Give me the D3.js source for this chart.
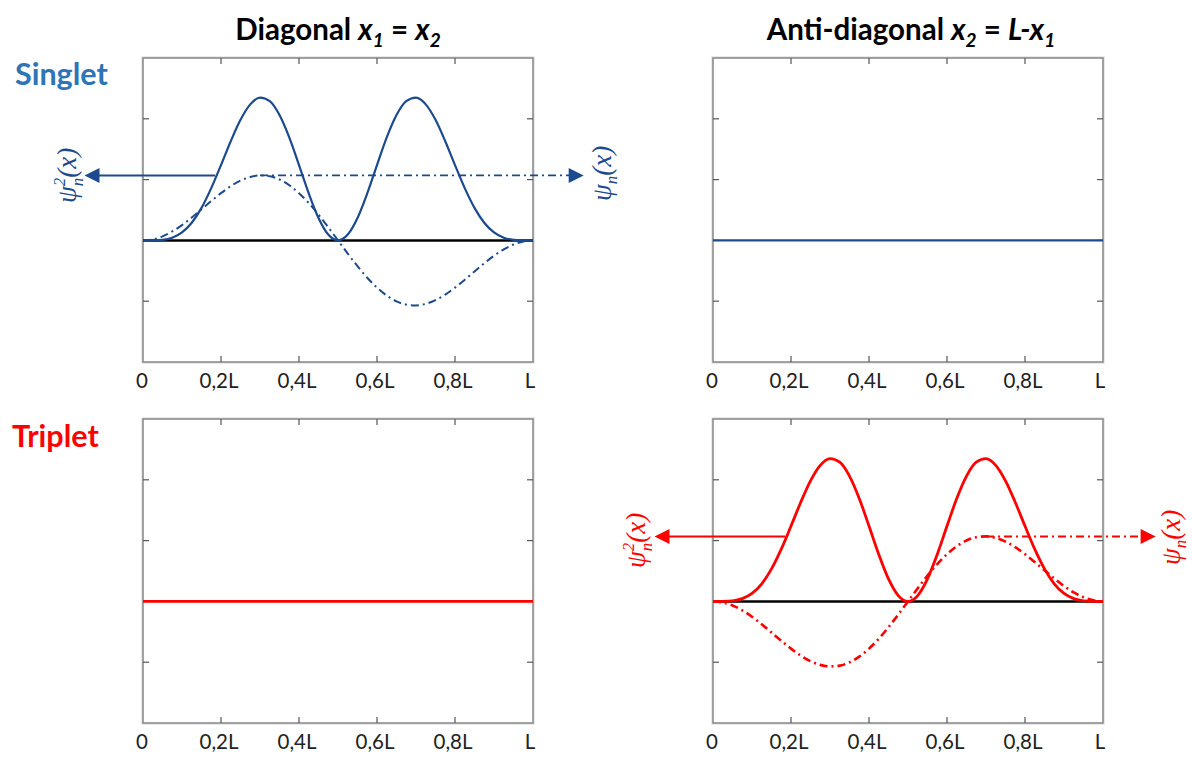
<!DOCTYPE html>
<html>
<head>
<meta charset="utf-8">
<script src="https://cdn.jsdelivr.net/npm/d3@7"></script>
<style>
  html, body { margin: 0; padding: 0; background: #fff; }
  svg { display: block; }
</style>
</head>
<body>
<svg id="fig" width="1192" height="758"></svg>
<script>
// Position along the box, in units of L
const xPos = [0, 0.025, 0.05, 0.075, 0.1, 0.125, 0.15, 0.175, 0.2, 0.225, 0.25,
  0.275, 0.3, 0.325, 0.35, 0.375, 0.4, 0.425, 0.45, 0.475, 0.5,
  0.525, 0.55, 0.575, 0.6, 0.625, 0.65, 0.675, 0.7, 0.725, 0.75,
  0.775, 0.8, 0.825, 0.85, 0.875, 0.9, 0.925, 0.95, 0.975, 1];

// Singlet on the diagonal: amplitude psi_n(x)
const singletDiagPsi = [0, 0.017, 0.067, 0.147, 0.252, 0.376, 0.511, 0.647, 0.777, 0.892, 0.983,
  1.044, 1.069, 1.056, 1.002, 0.908, 0.777, 0.614, 0.424, 0.217, 0,
  -0.217, -0.424, -0.614, -0.777, -0.908, -1.002, -1.056, -1.069, -1.044, -0.983,
  -0.892, -0.777, -0.647, -0.511, -0.376, -0.252, -0.147, -0.067, -0.017, 0];

// Singlet on the diagonal: probability density psi_n^2(x)
const singletDiagPsi2 = [0, 0.001, 0.009, 0.045, 0.131, 0.290, 0.535, 0.860, 1.239, 1.631, 1.983,
  2.237, 2.348, 2.289, 2.061, 1.693, 1.239, 0.773, 0.369, 0.096, 0,
  0.096, 0.369, 0.773, 1.239, 1.693, 2.061, 2.289, 2.348, 2.237, 1.983,
  1.631, 1.239, 0.860, 0.535, 0.290, 0.131, 0.045, 0.009, 0.001, 0];

// Triplet on the anti-diagonal: amplitude psi_n(x)
const tripletAntiPsi = [0, -0.017, -0.067, -0.147, -0.252, -0.376, -0.511, -0.647, -0.777, -0.892, -0.983,
  -1.044, -1.069, -1.056, -1.002, -0.908, -0.777, -0.614, -0.424, -0.217, 0,
  0.217, 0.424, 0.614, 0.777, 0.908, 1.002, 1.056, 1.069, 1.044, 0.983,
  0.892, 0.777, 0.647, 0.511, 0.376, 0.252, 0.147, 0.067, 0.017, 0];

// Triplet on the anti-diagonal: probability density psi_n^2(x)
const tripletAntiPsi2 = [0, 0.001, 0.009, 0.045, 0.131, 0.290, 0.535, 0.860, 1.239, 1.631, 1.983,
  2.237, 2.348, 2.289, 2.061, 1.693, 1.239, 0.773, 0.369, 0.096, 0,
  0.096, 0.369, 0.773, 1.239, 1.693, 2.061, 2.289, 2.348, 2.237, 1.983,
  1.631, 1.239, 0.860, 0.535, 0.290, 0.131, 0.045, 0.009, 0.001, 0];

// Vanishing wavefunctions (singlet anti-diagonal, triplet diagonal)
const flatPsi = [0, 0];
const flatX = [0, 1];

// Axis tick values and labels
const xTickVals = [0, 0.2, 0.4, 0.6, 0.8, 1];
const xTickLabels = ["0", "0,2L", "0,4L", "0,6L", "0,8L", "L"];
const yTickVals = [-1, 0, 1, 2];

const colTitles = ["Diagonal", "Anti-diagonal"];
const rowTitles = ["Singlet", "Triplet"];

const BLUE = "#1c4a8e";
const BLUE_LABEL = "#2e75b6";
const RED = "#ff0000";

const svg = d3.select("#fig");

const panelW = 390, panelH = 304;
const colX = [143, 713];
const rowY = [58, 419];

function makePanel(col, row) {
  const g = svg.append("g").attr("transform", `translate(${colX[col]},${rowY[row]})`);
  const x = d3.scaleLinear().domain([0, 1]).range([0, panelW]);
  const y = d3.scaleLinear().domain([-2, 3]).range([panelH, 0]);

  // frame
  g.append("rect").attr("x", -1).attr("y", -1).attr("width", panelW + 2).attr("height", panelH + 2)
    .attr("fill", "none").attr("stroke", "#d4d4d4").attr("stroke-width", 1);
  g.append("rect").attr("x", 0).attr("y", 0).attr("width", panelW).attr("height", panelH)
    .attr("fill", "none").attr("stroke", "#8c8c8c").attr("stroke-width", 1.6);

  // inward ticks on all four sides
  const inner = xTickVals.slice(1, -1);
  const tickCol = "#555";
  g.selectAll(".tt").data(inner).join("line")
    .attr("x1", d => x(d)).attr("x2", d => x(d)).attr("y1", 0).attr("y2", 6)
    .attr("stroke", tickCol).attr("stroke-width", 1.2);
  g.selectAll(".tb").data(inner).join("line")
    .attr("x1", d => x(d)).attr("x2", d => x(d)).attr("y1", panelH).attr("y2", panelH - 6)
    .attr("stroke", tickCol).attr("stroke-width", 1.2);
  g.selectAll(".tl").data(yTickVals).join("line")
    .attr("x1", 0).attr("x2", 6).attr("y1", d => y(d)).attr("y2", d => y(d))
    .attr("stroke", tickCol).attr("stroke-width", 1.2);
  g.selectAll(".tr").data(yTickVals).join("line")
    .attr("x1", panelW).attr("x2", panelW - 6).attr("y1", d => y(d)).attr("y2", d => y(d))
    .attr("stroke", tickCol).attr("stroke-width", 1.2);

  // tick labels below the frame
  g.selectAll(".xl").data(xTickVals).join("text")
    .attr("x", (d, i) => x(d) - (i === 0 ? 1 : (i === 5 ? 3 : 2)))
    .attr("y", panelH + 26)
    .attr("text-anchor", "middle")
    .attr("font-family", "Lato, 'Open Sans', sans-serif")
    .attr("font-size", 20.5)
    .attr("fill", "#222")
    .text((d, i) => xTickLabels[i]);

  return { g, x, y };
}

const line = (p) => d3.line().x(d => p.x(d[0])).y(d => p.y(d[1])).curve(d3.curveMonotoneX);
const zip = (xs, ys) => xs.map((v, i) => [v, ys[i]]);

function arrowHead(g, xTip, yTip, dir, color) {
  // filled triangle pointing left (dir=-1) or right (dir=1)
  const len = 15, half = 7.5;
  g.append("path")
    .attr("d", `M${xTip},${yTip} L${xTip - dir * len},${yTip - half} L${xTip - dir * len},${yTip + half} Z`)
    .attr("fill", color);
}

// rotated psi labels: "psi^2_n(x)" or "psi_n(x)"
function psiLabel(g, cx, cy, squared, color) {
  const t = g.append("g").attr("transform", `translate(${cx},${cy}) rotate(-90)`);
  const txt = t.append("text")
    .attr("text-anchor", "middle")
    .attr("font-family", "'Liberation Serif', 'DejaVu Serif', serif")
    .attr("font-style", "italic")
    .attr("font-size", 27)
    .attr("fill", color)
    .attr("y", 9);
  txt.append("tspan").text("\u03C8");
  if (squared) {
    txt.append("tspan").attr("font-size", 17).attr("dy", -11).text("2");
    txt.append("tspan").attr("font-size", 17).attr("dx", -8.5).attr("dy", 18).text("n");
    txt.append("tspan").attr("dy", -7).text("(x)");
  } else {
    txt.append("tspan").attr("font-size", 17).attr("dy", 6).text("n");
    txt.append("tspan").attr("dy", -6).text("(x)");
  }
}

// ---------- Singlet, diagonal ----------
{
  const p = makePanel(0, 0);
  p.g.append("line").attr("x1", 0).attr("x2", panelW).attr("y1", p.y(0)).attr("y2", p.y(0))
    .attr("stroke", "#000").attr("stroke-width", 2.5);
  p.g.append("path").datum(zip(xPos, singletDiagPsi)).attr("d", line(p))
    .attr("fill", "none").attr("stroke", BLUE).attr("stroke-width", 2)
    .attr("stroke-dasharray", "8,4,2,4");
  p.g.append("path").datum(zip(xPos, singletDiagPsi2)).attr("d", line(p))
    .attr("fill", "none").attr("stroke", BLUE).attr("stroke-width", 2.2);

  const lev = d3.max(singletDiagPsi);
  const yA = p.y(lev);
  // psi^2 arrow (solid) to the left axis label
  p.g.append("line").attr("x1", p.x(0.185)).attr("x2", p.x(-0.12)).attr("y1", yA).attr("y2", yA)
    .attr("stroke", BLUE).attr("stroke-width", 2);
  arrowHead(p.g, p.x(-0.15), yA, -1, BLUE);
  // psi arrow (dash-dot) to the right axis label
  p.g.append("line").attr("x1", p.x(0.3)).attr("x2", p.x(1.1)).attr("y1", yA).attr("y2", yA)
    .attr("stroke", BLUE).attr("stroke-width", 1.8).attr("stroke-dasharray", "8,4,2,4");
  arrowHead(p.g, p.x(1.13), yA, 1, BLUE);

  psiLabel(p.g, p.x(-0.195), yA, true, BLUE);
  psiLabel(p.g, p.x(1.177), yA - 2, false, BLUE);
}

// ---------- Singlet, anti-diagonal ----------
{
  const p = makePanel(1, 0);
  p.g.append("path").datum(zip(flatX, flatPsi)).attr("d", line(p))
    .attr("fill", "none").attr("stroke", BLUE).attr("stroke-width", 2.2);
}

// ---------- Triplet, diagonal ----------
{
  const p = makePanel(0, 1);
  p.g.append("path").datum(zip(flatX, flatPsi)).attr("d", line(p))
    .attr("fill", "none").attr("stroke", RED).attr("stroke-width", 2.6);
}

// ---------- Triplet, anti-diagonal ----------
{
  const p = makePanel(1, 1);
  p.g.append("line").attr("x1", 0).attr("x2", panelW).attr("y1", p.y(0)).attr("y2", p.y(0))
    .attr("stroke", "#000").attr("stroke-width", 2.5);
  p.g.append("path").datum(zip(xPos, tripletAntiPsi)).attr("d", line(p))
    .attr("fill", "none").attr("stroke", RED).attr("stroke-width", 2.6)
    .attr("stroke-dasharray", "8,4,2,4");
  p.g.append("path").datum(zip(xPos, tripletAntiPsi2)).attr("d", line(p))
    .attr("fill", "none").attr("stroke", RED).attr("stroke-width", 2.8);

  const lev = d3.max(tripletAntiPsi);
  const yA = p.y(lev);
  p.g.append("line").attr("x1", p.x(0.185)).attr("x2", p.x(-0.12)).attr("y1", yA).attr("y2", yA)
    .attr("stroke", RED).attr("stroke-width", 2);
  arrowHead(p.g, p.x(-0.15), yA, -1, RED);
  p.g.append("line").attr("x1", p.x(0.7)).attr("x2", p.x(1.1)).attr("y1", yA).attr("y2", yA)
    .attr("stroke", RED).attr("stroke-width", 2).attr("stroke-dasharray", "8,4,2,4");
  arrowHead(p.g, p.x(1.135), yA, 1, RED);

  psiLabel(p.g, p.x(-0.197), yA + 4, true, RED);
  psiLabel(p.g, p.x(1.174), yA + 1, false, RED);
}

// ---------- Column titles ----------
const titleFont = "Lato, 'Open Sans', sans-serif";
function colTitle(cx, parts) {
  const t = svg.append("text").attr("x", cx).attr("y", 40)
    .attr("text-anchor", "middle")
    .attr("font-family", titleFont).attr("font-weight", "bold").attr("font-size", 29.5)
    .attr("fill", "#000");
  parts.forEach(pt => {
    const s = t.append("tspan").text(pt.t);
    if (pt.i) s.attr("font-style", "italic");
    if (pt.sub) s.attr("font-size", 19).attr("dy", 7);
    if (pt.up) s.attr("dy", -7);
  });
}
colTitle(338, [
  { t: colTitles[0] + " " }, { t: "x", i: true }, { t: "1", i: true, sub: true },
  { t: " = ", up: true }, { t: "x", i: true }, { t: "2", i: true, sub: true }
]);
colTitle(911, [
  { t: colTitles[1] + " " }, { t: "x", i: true }, { t: "2", i: true, sub: true },
  { t: " = ", up: true }, { t: "L-x", i: true }, { t: "1", i: true, sub: true }
]);

// ---------- Row titles ----------
svg.append("text").attr("x", 15).attr("y", 85)
  .attr("font-family", titleFont).attr("font-weight", "bold").attr("font-size", 30.5)
  .attr("fill", BLUE_LABEL).text(rowTitles[0]);
svg.append("text").attr("x", 12).attr("y", 447)
  .attr("font-family", titleFont).attr("font-weight", "bold").attr("font-size", 30.5)
  .attr("fill", RED).text(rowTitles[1]);
</script>
</body>
</html>
